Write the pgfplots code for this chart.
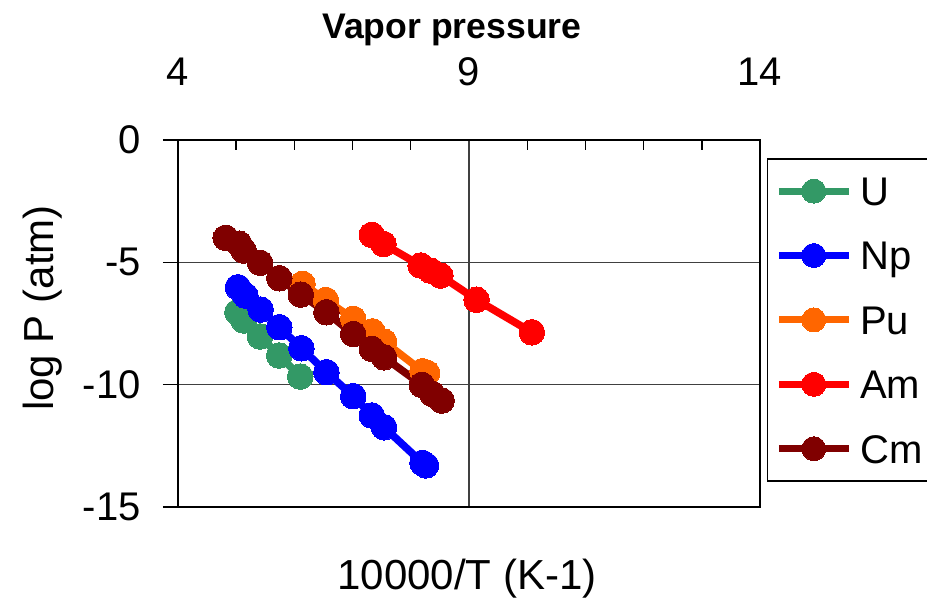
\documentclass[border=0pt]{standalone}
\usepackage{fontspec}
\setmainfont{Liberation Sans}
\usepackage{pgfplots}
\pgfplotsset{compat=1.18}

\definecolor{cU}{RGB}{51,153,102}
\definecolor{cNp}{RGB}{0,0,255}
\definecolor{cPu}{RGB}{255,102,0}
\definecolor{cAm}{RGB}{255,0,0}
\definecolor{cCm}{RGB}{128,0,0}

\newcommand{\bigfont}{\fontsize{20}{24}\selectfont}

\pgfplotsset{
  vp/.style={line width=3.8pt, mark=*, mark size=6.4pt, mark options={line width=0pt}},
}

\begin{document}
\begin{tikzpicture}
\useasboundingbox (-89pt,-48pt) rectangle (374.5pt,253.5pt);
\begin{axis}[
    name=ax,
    scale only axis,
    width=291pt, height=183.5pt,
    xmin=4, xmax=14, ymin=-15, ymax=0,
    xtick={4,9,14}, xticklabels={4,9,14},
    ytick={-15,-10,-5,0}, yticklabels={-15,-10,-5,0},
    xtick pos=upper, ytick pos=left,
    minor x tick num=4,
    x tick style={draw=none},
    minor x tick style={draw=black, line width=0.7pt},
    minor tick length=5pt,
    y tick style={black, line width=0.8pt},
    major tick length=7.5pt,
    ytick align=outside,
    grid=major,
    grid style={black!75, line width=0.8pt},
    axis line style={black, line width=0.9pt},
    /pgf/number format/assume math mode=true,
    tick label style={font=\bigfont},
    xticklabel style={anchor=base, yshift=27pt},
    yticklabel style={anchor=east, inner sep=0pt},
    yticklabel shift=11pt,
    legend style={at={(1.0115,0.950)}, anchor=north west, draw=black,
        line width=0.6pt, font=\bigfont, row sep=0pt, inner xsep=4pt, inner ysep=0pt,
        nodes={text height=23.3pt, text depth=8.9pt, inner ysep=0pt, inner xsep=4pt}},
    legend cell align=left,
    legend image code/.code={\draw[mark repeat=2,mark phase=2,line width=3.5pt, mark size=6pt] plot coordinates {(0pt,0pt)(17.5pt,0pt)(35pt,0pt)};},
]
\addplot[vp, color=cU] coordinates {
  (5.02,-7.04) (5.13,-7.38) (5.41,-8.03) (5.74,-8.81) (6.10,-9.67)
};
\addlegendentry{U}
\addplot[vp, color=cNp] coordinates {
  (5.03,-6.02) (5.16,-6.36) (5.42,-6.93) (5.74,-7.65) (6.12,-8.51) (6.55,-9.49)
  (7.01,-10.47) (7.33,-11.26) (7.54,-11.74) (8.20,-13.20) (8.26,-13.30)
};
\addlegendentry{Np}
\addplot[vp, color=cPu] coordinates {
  (6.14,-5.88) (6.54,-6.54) (7.01,-7.31) (7.34,-7.82) (7.54,-8.24) (8.20,-9.45) (8.28,-9.52)
};
\addlegendentry{Pu}
\addplot[vp, color=cAm] coordinates {
  (7.33,-3.88) (7.53,-4.25) (8.17,-5.13) (8.34,-5.34) (8.51,-5.54) (9.13,-6.53) (10.08,-7.86)
};
\addlegendentry{Am}
\addplot[vp, color=cCm] coordinates {
  (4.82,-4.00) (5.05,-4.24) (5.13,-4.52) (5.41,-5.02) (5.74,-5.65) (6.11,-6.32)
  (6.55,-7.04) (7.01,-7.93) (7.33,-8.54) (7.54,-8.88) (8.19,-10.01) (8.37,-10.38) (8.53,-10.65)
};
\addlegendentry{Cm}
\end{axis}
\node[font=\fontsize{17.8}{21}\selectfont\bfseries, anchor=base] at (137pt,234pt) {Vapor pressure};
\node[font=\fontsize{21}{25}\selectfont, anchor=base] at (144.5pt,-41.5pt) {10000/T (K-1)};
\node[font=\fontsize{21}{25}\selectfont, rotate=90, anchor=center] at (-67.5pt,99.5pt) {log P (atm)};
\end{tikzpicture}
\end{document}
